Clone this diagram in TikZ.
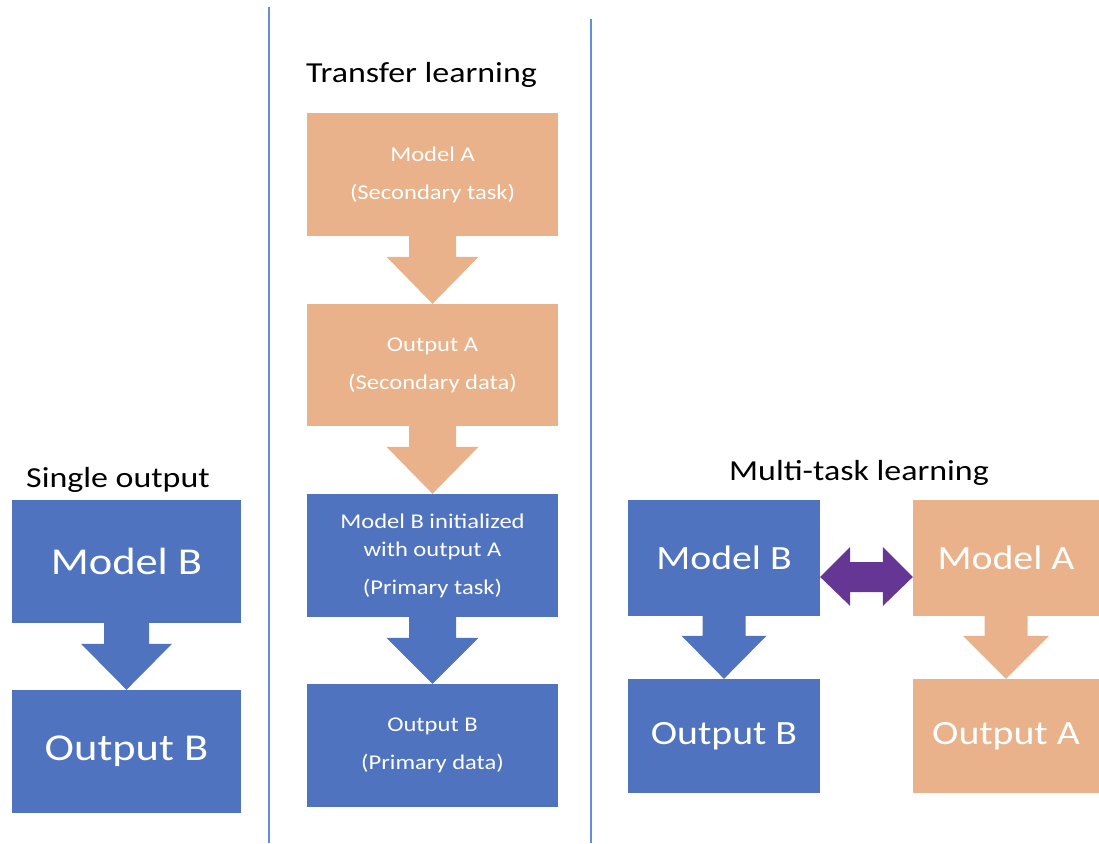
\documentclass[tikz,border=0pt]{standalone}
\usepackage{fontspec}
\setmainfont{Carlito}[FakeStretch=1.17]
\usetikzlibrary{calc}
\definecolor{bblue}{RGB}{79,115,190}
\definecolor{borange}{RGB}{233,178,138}
\definecolor{bpurple}{RGB}{102,54,148}
\definecolor{divider}{RGB}{100,140,225}
\tikzset{
  box/.style={inner sep=0pt, text=white, align=center},
  bluebox/.style={box, fill=bblue},
  orangebox/.style={box, fill=borange},
  title/.style={anchor=base, inner sep=0pt, font=\fontsize{29}{34}\selectfont},
  bigtext/.style={font=\fontsize{38}{46}\selectfont},
  midtext/.style={font=\fontsize{34}{40}\selectfont},
  smalltext/.style={font=\fontsize{21}{38}\selectfont},
  divline/.style={draw=divider, line width=1.3pt}
}
% block down arrow: from, to, shaft half width, head half width, head length, colour
\newcommand\blockdown[6]{%
  \fill[#6] ($(#1.south)+(-#3,0)$) -- ($(#1.south)+(#3,0)$)
    -- ($(#2.north)+(#3,-#5)$) -- ($(#2.north)+(#4,-#5)$)
    -- (#2.north)
    -- ($(#2.north)+(-#4,-#5)$) -- ($(#2.north)+(-#3,-#5)$) -- cycle;}
\begin{document}
\begin{tikzpicture}[x=1pt,y=-1pt]
\useasboundingbox (0,0) rectangle (1099,843);

% dividers
\coordinate (d1t) at (269,7);
\coordinate (d1b) at (269,843);
\coordinate (d2t) at (591,19);
\coordinate (d2b) at (591,843);
\draw[divline] (d1t) -- (d1b);
\draw[divline] (d2t) -- (d2b);

% Single output
\node[title] (t1) at (118,487) {Single output};
\node[bluebox, bigtext, minimum width=229pt, minimum height=123pt] (sB) at (126.5,561) {Model B};
\node[bluebox, bigtext, minimum width=229pt, minimum height=123pt] (sOB) at (126.5,751.5) {Output B};
\blockdown{sB}{sOB}{22.5}{45.5}{46}{bblue}

% Transfer learning
\node[title] (t2) at (421.5,82) {Transfer learning};
\node[orangebox, smalltext, minimum width=251pt, minimum height=123pt] (tA) at (432.5,174.5) {Model A\\(Secondary task)};
\node[orangebox, smalltext, minimum width=251pt, minimum height=122pt] (tOA) at (432.5,365) {Output A\\(Secondary data)};
\node[bluebox, minimum width=251pt, minimum height=123pt, font=\fontsize{21}{28}\selectfont] (tB) at (432.5,555.5) {Model B initialized\\with output A\\[10pt](Primary task)};
\node[bluebox, smalltext, minimum width=251pt, minimum height=123pt] (tOB) at (432.5,745.5) {Output B\\(Primary data)};
\blockdown{tA}{tOA}{23.5}{46}{47}{borange}
\blockdown{tOA}{tB}{23.5}{46}{47}{borange}
\blockdown{tB}{tOB}{23.5}{46}{46}{bblue}

% Multi-task learning
\node[title] (t3) at (859,480) {Multi-task learning};
\node[bluebox, midtext, minimum width=192pt, minimum height=116pt] (mB) at (724,558) {Model B};
\node[bluebox, midtext, minimum width=192pt, minimum height=114pt] (mOB) at (724,736) {Output B};
\node[orangebox, midtext, minimum width=186pt, minimum height=116pt] (mA) at (1006,558) {Model A};
\node[orangebox, midtext, minimum width=186pt, minimum height=114pt] (mOA) at (1006,736) {Output A};
\blockdown{mB}{mOB}{21.5}{42.5}{43}{bblue}
\blockdown{mA}{mOA}{21.5}{43}{43}{borange}

% double arrow
\coordinate (l) at (mB.east |- 0,577);
\coordinate (r) at (mA.west |- 0,577);
\fill[bpurple] (l) -- ($(l)+(30,-30)$) -- ($(l)+(30,-15)$) -- ($(r)+(-30,-15)$)
  -- ($(r)+(-30,-30)$) -- (r) -- ($(r)+(-30,29)$) -- ($(r)+(-30,15)$)
  -- ($(l)+(30,15)$) -- ($(l)+(30,29)$) -- cycle;
\end{tikzpicture}
\end{document}
